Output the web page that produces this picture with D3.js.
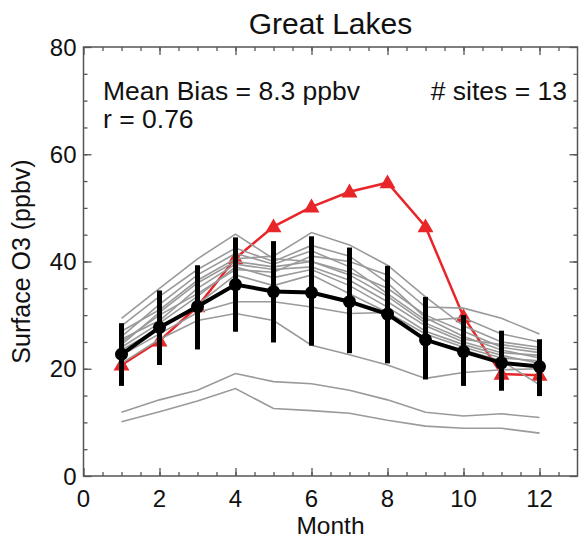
<!DOCTYPE html>
<html>
<head>
<meta charset="utf-8">
<script src="https://cdn.jsdelivr.net/npm/d3@7"></script>
<style>
  body { margin: 0; background: #fff; }
  text { font-family: "Liberation Sans", Arial, sans-serif; fill: #111; }
</style>
</head>
<body>
<div id="chart"></div>
<script>
// months and tick labels
var months = [1, 2, 3, 4, 5, 6, 7, 8, 9, 10, 11, 12];
var xTicks = [0, 2, 4, 6, 8, 10, 12];
var yTicks = [0, 20, 40, 60, 80];

// observed mean with error bar ends
var obsMean = [22.7, 27.7, 31.6, 35.7, 34.4, 34.2, 32.5, 30.2, 25.4, 23.2, 21.1, 20.4];
var obsHigh = [28.5, 34.6, 39.3, 44.5, 43.8, 44.7, 42.6, 39.2, 33.4, 30.0, 27.1, 25.5];
var obsLow  = [16.8, 20.7, 23.6, 26.9, 24.9, 24.3, 22.9, 21.0, 18.0, 16.8, 15.9, 14.9];

// model
var model = [20.7, 25.2, 31.6, 40.6, 46.5, 50.2, 53.0, 54.7, 46.5, 29.7, 19.0, 18.8];

// individual sites (13)
var sites = [
  [29.4, 35.0, 40.5, 45.1, 40.5, 40.0, 38.0, 35.0, 30.0, 27.0, 24.0, 23.0],
  [27.0, 31.0, 36.5, 40.5, 41.0, 45.4, 43.1, 39.3, 33.4, 28.0, 25.0, 24.0],
  [25.0, 30.0, 34.0, 38.5, 38.0, 41.0, 40.0, 37.5, 31.5, 31.3, 29.4, 26.5],
  [28.0, 33.5, 38.5, 42.5, 40.0, 43.0, 41.0, 36.0, 29.5, 26.0, 23.5, 22.0],
  [26.0, 32.0, 37.5, 41.5, 39.5, 42.0, 39.0, 34.0, 29.0, 29.5, 26.5, 25.0],
  [24.5, 30.5, 36.0, 40.0, 39.0, 40.0, 37.5, 33.5, 28.5, 25.5, 24.5, 23.5],
  [25.5, 29.0, 35.0, 39.5, 38.5, 39.0, 36.5, 32.5, 28.0, 25.0, 23.0, 22.5],
  [24.0, 28.5, 33.5, 39.0, 37.0, 38.5, 35.5, 31.5, 27.0, 24.5, 22.5, 21.0],
  [23.5, 27.5, 32.0, 37.5, 35.5, 37.5, 34.0, 30.5, 26.5, 24.0, 22.0, 21.5],
  [22.5, 26.5, 30.5, 32.5, 32.5, 31.5, 30.3, 30.5, 25.5, 23.5, 21.5, 17.0],
  [21.0, 25.5, 29.0, 30.3, 29.0, 24.4, 22.6, 20.7, 18.2, 19.3, 19.8, 20.0],
  [11.9, 14.2, 16.0, 19.1, 17.6, 17.2, 16.0, 14.2, 11.9, 11.2, 11.6, 10.9],
  [10.1, 12.0, 14.0, 16.3, 12.6, 12.2, 11.7, 10.4, 9.3, 8.9, 8.9, 8.0]
];

var width = 579, height = 540;
var plotL = 83.5, plotR = 577.5, plotT = 47, plotB = 476;

var svg = d3.select("#chart").append("svg")
    .attr("width", width)
    .attr("height", height);

var x = d3.scaleLinear().domain([0, 13]).range([plotL, plotR]);
var y = d3.scaleLinear().domain([0, 80]).range([plotB, plotT]);

var axisColor = "#555";

// frame
svg.append("rect")
    .attr("x", plotL).attr("y", plotT)
    .attr("width", plotR - plotL).attr("height", plotB - plotT)
    .attr("fill", "none").attr("stroke", axisColor).attr("stroke-width", 1.5);

// ticks on all four sides, pointing inward
function ticks(axis, pos, values, size) {
    var g = svg.append("g").attr("transform", pos)
        .call(axis.tickValues(values).tickSize(size).tickFormat(""));
    g.select(".domain").remove();
    g.selectAll("line").attr("stroke", axisColor).attr("stroke-width", 1.3);
}
var xMinor = d3.range(0.5, 13, 0.5);
var yMinor = d3.range(5, 80, 5);
ticks(d3.axisBottom(x), "translate(0," + plotB + ")", xMinor, -4);
ticks(d3.axisBottom(x), "translate(0," + plotB + ")", xTicks, -8);
ticks(d3.axisTop(x), "translate(0," + plotT + ")", xMinor, -4);
ticks(d3.axisTop(x), "translate(0," + plotT + ")", xTicks, -8);
ticks(d3.axisLeft(y), "translate(" + plotL + ",0)", yMinor, -4);
ticks(d3.axisLeft(y), "translate(" + plotL + ",0)", yTicks, -8);
ticks(d3.axisRight(y), "translate(" + plotR + ",0)", yMinor, -4);
ticks(d3.axisRight(y), "translate(" + plotR + ",0)", yTicks, -8);

// tick labels
svg.selectAll(".xlab").data(xTicks).enter().append("text")
    .attr("x", function (d) { return x(d); })
    .attr("y", 507)
    .attr("text-anchor", "middle")
    .style("font-size", "24px")
    .text(function (d) { return d; });
svg.selectAll(".ylab").data(yTicks).enter().append("text")
    .attr("x", plotL - 7)
    .attr("y", function (d) { return y(d) + 8.5; })
    .attr("text-anchor", "end")
    .style("font-size", "24px")
    .text(function (d) { return d; });

var line = d3.line()
    .x(function (d, i) { return x(months[i]); })
    .y(function (d) { return y(d); });

// model (red) underneath
svg.append("path").datum(model)
    .attr("d", line)
    .attr("fill", "none").attr("stroke", "#e8262a").attr("stroke-width", 2.5);
var tri = d3.symbol().type(d3.symbolTriangle).size(110);
svg.selectAll(".tri").data(model).enter().append("path")
    .attr("d", tri)
    .attr("transform", function (d, i) { return "translate(" + x(months[i]) + "," + (y(d) + 1) + ")"; })
    .attr("fill", "#e8262a");

// sites (grey)
svg.selectAll(".site").data(sites).enter().append("path")
    .attr("d", line)
    .attr("fill", "none").attr("stroke", "#9a9a9a").attr("stroke-width", 1.6);

// observed mean with error bars
svg.selectAll(".err").data(months).enter().append("line")
    .attr("x1", function (d) { return x(d); })
    .attr("x2", function (d) { return x(d); })
    .attr("y1", function (d, i) { return y(obsLow[i]); })
    .attr("y2", function (d, i) { return y(obsHigh[i]); })
    .attr("stroke", "#000").attr("stroke-width", 5);
svg.append("path").datum(obsMean)
    .attr("d", line)
    .attr("fill", "none").attr("stroke", "#000").attr("stroke-width", 4);
svg.selectAll(".dot").data(obsMean).enter().append("circle")
    .attr("cx", function (d, i) { return x(months[i]); })
    .attr("cy", function (d) { return y(d); })
    .attr("r", 6.5)
    .attr("fill", "#000");

// titles and annotations
svg.append("text").attr("x", (plotL + plotR) / 2).attr("y", 34)
    .attr("text-anchor", "middle").style("font-size", "30px").text("Great Lakes");
svg.append("text").attr("x", (plotL + plotR) / 2).attr("y", 534)
    .attr("text-anchor", "middle").style("font-size", "24.5px").text("Month");
svg.append("text")
    .attr("transform", "translate(30," + ((plotT + plotB) / 2) + ") rotate(-90)")
    .attr("text-anchor", "middle").style("font-size", "25px").text("Surface O3 (ppbv)");
svg.append("text").attr("x", 103).attr("y", 100)
    .style("font-size", "26.5px").text("Mean Bias = 8.3 ppbv");
svg.append("text").attr("x", 103).attr("y", 128)
    .style("font-size", "26.5px").text("r = 0.76");
svg.append("text").attr("x", 567).attr("y", 100)
    .attr("text-anchor", "end").style("font-size", "26.5px").text("# sites = 13");
</script>
</body>
</html>
